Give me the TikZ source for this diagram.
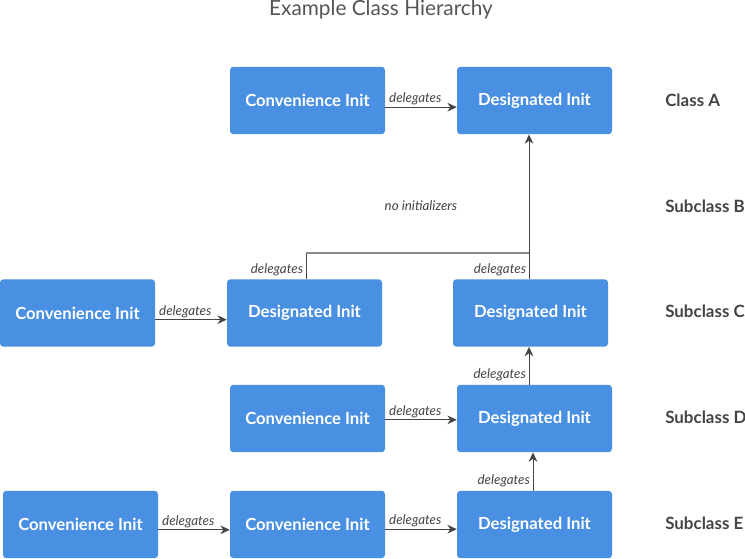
\documentclass[tikz,border=0pt]{standalone}
\usepackage{fontspec}
\setmainfont{Lato}
\usetikzlibrary{arrows.meta,calc}
\definecolor{boxblue}{HTML}{4A90E2}
\definecolor{linedark}{HTML}{444444}
\definecolor{linegray}{HTML}{8A8A8A}
\definecolor{labelgray}{HTML}{444444}
\definecolor{titlegray}{HTML}{555555}
\tikzset{
  initbox/.style={fill=boxblue, rounded corners=2.5pt, minimum width=116.25pt, minimum height=50.5pt, inner sep=0pt, text=white, font=\bfseries\fontsize{12.5}{14}\selectfont},
  classlabel/.style={anchor=west, text=labelgray, font=\bfseries\fontsize{12.7}{14}\selectfont, inner sep=0pt},
  arr/.style={draw=linedark, line width=0.75pt, -{Stealth[length=7pt,width=6.5pt]}},
  plainline/.style={draw=linedark, line width=0.75pt},
  grayline/.style={draw=linegray, line width=1pt},
  dlabel/.style={font=\itshape\fontsize{10}{12}\selectfont, text=labelgray, inner sep=1pt}
}
\begin{document}
\begin{tikzpicture}[x=0.75pt,y=-0.75pt]
\path[use as bounding box, fill=white] (0,0) rectangle (745,559);
\node[font=\fontsize{15.6}{18}\selectfont, text=titlegray] (title) at (381,10) {Example Class Hierarchy};
% Class A
\node[initbox] (ac) at (307.5,100.5) {Convenience Init};
\node[initbox] (ad) at (534.5,100.5) {Designated Init};
% Subclass C
\node[initbox] (cc) at (77.5,313) {Convenience Init};
\node[initbox] (cd1) at (304.5,313) {Designated Init};
\node[initbox] (cd2) at (530.5,313) {Designated Init};
% Subclass D
\node[initbox] (dc) at (307.5,418.5) {Convenience Init};
\node[initbox] (dd) at (534.5,418.5) {Designated Init};
% Subclass E
\node[initbox] (ec1) at (80.5,524.5) {Convenience Init};
\node[initbox] (ec2) at (307.5,524.5) {Convenience Init};
\node[initbox] (ed) at (534.5,524.5) {Designated Init};
% class labels
\node[classlabel] (la) at (665,100) {Class A};
\node[classlabel] (lb) at (665,206) {Subclass B};
\node[classlabel] (lc) at (665,311) {Subclass C};
\node[classlabel] (ld) at (665,417) {Subclass D};
\node[classlabel] (le) at (665,523) {Subclass E};
% connectors
\coordinate (j) at (529,253);
\coordinate (jl) at (306,253);
\draw[arr] ([yshift=-5pt]ac.east) -- node[dlabel, above, pos=0.42] (l1) {delegates} ([yshift=-5pt]ad.west);
\draw[arr] ([yshift=-5pt]cc.east) -- node[dlabel, above, pos=0.42] (l2) {delegates} ([yshift=-5pt]cd1.west);
\draw[arr] ([yshift=-1pt]dc.east) -- node[dlabel, above, pos=0.42] (l3) {delegates} ([yshift=-1pt]dd.west);
\draw[arr] ([yshift=-4pt]ec1.east) -- node[dlabel, above, pos=0.42] (l4) {delegates} ([yshift=-4pt]ed.west -| ec2.west);
\draw[arr] ([yshift=-3.5pt]ec2.east) -- node[dlabel, above, pos=0.42] (l5) {delegates} ([yshift=-3.5pt]ed.west);
\draw[plainline] (cd1.north -| jl) -- (jl);
\draw[grayline] (jl) -- (j);
\draw[plainline] (cd2.north -| j) -- (j);
\draw[arr] (j) -- (ad.south -| j);
\node[dlabel, anchor=south east] (l6) at ([xshift=-1pt,yshift=1pt]cd1.north -| jl) {delegates};
\node[dlabel, anchor=south east] (l7) at ([xshift=-1pt,yshift=1pt]cd2.north -| j) {delegates};
\node[dlabel] (ni) at (421,206) {no initializers};
\draw[arr] (dd.north -| j) -- node[dlabel, anchor=south east, pos=0.0, xshift=-1pt, yshift=1pt] (l8) {delegates} (cd2.south -| j);
\coordinate (je) at (533,0);
\draw[arr] (ed.north -| je) -- node[dlabel, anchor=south east, pos=0.0, xshift=-1pt, yshift=1pt] (l9) {delegates} (dd.south -| je);
\end{tikzpicture}
\end{document}
